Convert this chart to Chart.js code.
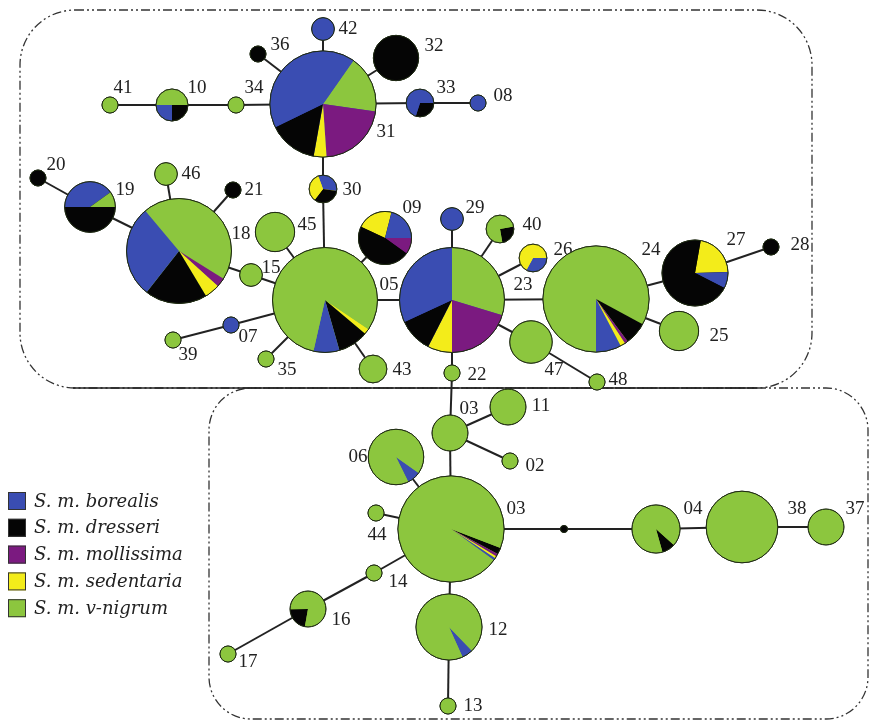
<!DOCTYPE html>
<html>
<head>
<meta charset="utf-8">
<script src="https://cdn.jsdelivr.net/npm/chart.js@4.4.0/dist/chart.umd.min.js"></script>
<style>
  html, body { margin: 0; padding: 0; background: #fff; }
  #wrap { width: 871px; height: 721px; }
</style>
</head>
<body>
<div id="wrap"><canvas id="net" width="871" height="721"></canvas></div>
<script>
// subspecies (legend order) and their colours
const subspecies = ['S. m. borealis', 'S. m. dresseri', 'S. m. mollissima', 'S. m. sedentaria', 'S. m. v-nigrum'];
const subColors = ['#3a4db2', '#050505', '#7b1a80', '#f3ec1a', '#8cc63e'];
const B = 0, D = 1, M = 2, S = 3, V = 4;

// haplotypes: key, layout position, number of individuals
const hapKeys = ['42','36','32','41','10','34','31','33','08','30','20','19','46','21','18','15','45','07','39','35',
                 '09','29','40','26','05','23','43','22','47','24','27','28','25','48','03a','11','02','06','03b','44',
                 '14','16','17','12','13','mv','04','38','37'];
const hapX = [323,258,396,110,172,236,323,420,478,323, 38, 90,166,233,179,251,275,231,173,266,
              385,452,500,533,325,452,373,452,531,596,695,771,679,597,450,508,510,396,451,376,
              374,308,228,449,448,564,656,742,826];
const hapY = [ 29, 54, 58,105,105,105,104,103,103,189,178,207,174,190,251,275,232,325,340,359,
              238,219,229,258,300,300,369,373,342,299,273,247,331,382,433,407,461,457,529,513,
              573,609,654,627,706,529,529,527,527];
const hapN = [ 2, 1, 8, 1, 4, 1,44, 3, 1, 3, 1,10, 2, 1,43, 2, 6, 1, 1, 1,
              11, 2, 3, 3,43,43, 3, 1, 7,44,17, 1, 6, 1, 5, 5, 1,12,44, 1,
               1, 5, 1,17, 1, 0, 9,20, 5];

// pie composition: start angle (deg, clockwise from 12 o'clock) and slices [subspecies, %] clockwise
const hapStart = [0,0,0,0,270,0,35,90,0,340,0,270,0,0,320,0,0,0,0,0,
                  295,0,80,90,124,0,0,0,0,180,10,0,0,0,0,0,0,125,111,0,
                  0,190,0,136,0,0,132,0,0];
const hapSlices = [
  [[B,100]], [[D,100]], [[D,100]], [[V,100]],
  [[V,50],[D,25],[B,25]],
  [[V,100]],
  [[V,17.5],[M,21.7],[S,3.9],[D,15],[B,41.9]],
  [[D,30],[B,70]],
  [[B,100]],
  [[B,33],[D,33],[S,34]],
  [[D,100]],
  [[B,40],[V,10],[D,50]],
  [[V,100]], [[D,100]],
  [[V,45],[M,2.8],[S,4.7],[D,19.2],[B,28.3]],
  [[V,100]], [[V,100]], [[B,100]], [[V,100]], [[V,100]],
  [[S,22],[B,21],[M,10],[D,47]],
  [[B,100]],
  [[D,25],[V,75]],
  [[B,33],[S,67]],
  [[S,1.7],[D,9.4],[B,8],[V,80.9]],
  [[V,29.7],[M,20.3],[S,7.5],[D,10.6],[B,31.9]],
  [[V,100]], [[V,100]], [[V,100]],
  [[V,82.9],[D,6.9],[M,1],[S,1.5],[B,7.7]],
  [[S,21.7],[B,8],[D,70.3]],
  [[D,100]], [[V,100]], [[V,100]], [[V,100]], [[V,100]], [[V,100]],
  [[B,8],[V,92]],
  [[D,2],[M,0.8],[S,0.7],[B,0.7],[V,95.8]],
  [[V,100]], [[V,100]],
  [[D,22],[V,78]],
  [[V,100]],
  [[B,5.5],[V,94.5]],
  [[V,100]],
  [[D,100]],
  [[D,9],[V,91]],
  [[V,100]], [[V,100]]
];

// mutational links between haplotypes
const links = [
  ['31','42'],['31','36'],['31','32'],['31','34'],['34','10'],['10','41'],['31','33'],['33','08'],
  ['31','30'],['30','05'],['20','19'],['19','18'],['46','18'],['21','18'],['18','15'],['15','05'],
  ['45','05'],['09','05'],['05','23'],['05','07'],['07','39'],['05','35'],['05','43'],['29','23'],
  ['40','23'],['26','23'],['23','24'],['23','47'],['47','48'],['23','22'],['24','27'],['27','28'],
  ['24','25'],['22','03a'],['03a','11'],['03a','02'],['03a','03b'],['06','03b'],['44','03b'],
  ['03b','14'],['14','16'],['16','17'],['03b','12'],['12','13'],['03b','mv'],['mv','04'],
  ['04','38'],['38','37']
];

// label placement (offset from node centre, px)
const labelDX = [25,22,38,13,25,18,63,26,25,29,18,35,25,21,62,20,32,17,15,21,
                 27,23,32,30,64,71,29,25,23,55,41,29,40,21,19,33,25,-38,65,1,
                 24,33,20,49,25,0,37,55,29];
const labelDY = [0,-9,-12,-17,-17,-17,28,-15,-7,1,-13,-17,0,0,-17,-7,-7,12,15,11,
                 -30,-11,-4,-8,-15,-15,1,2,28,-49,-33,-2,5,-2,-24,-1,5,0,-20,22,
                 9,11,8,3,0,0,-20,-18,-18];

function nodeRadius(n) {
  return n > 0 ? 8 * Math.sqrt(n) : 3.5;
}
function keyIndex(k) { return hapKeys.indexOf(k); }

const nodeData = hapKeys.map((k, i) => ({ x: hapX[i], y: hapY[i], r: nodeRadius(hapN[i]) }));

const edgeSets = links.map(([a, b]) => ({
  type: 'line',
  data: [{ x: hapX[keyIndex(a)], y: hapY[keyIndex(a)] }, { x: hapX[keyIndex(b)], y: hapY[keyIndex(b)] }],
  borderColor: '#222',
  borderWidth: 2,
  pointRadius: 0,
  fill: false,
  order: 1
}));

function toRad(deg) { return (deg - 90) * Math.PI / 180; }

const networkPlugin = {
  id: 'network',
  beforeDatasetsDraw(chart) {
    const ctx = chart.ctx;
    const sx = chart.scales.x, sy = chart.scales.y;
    ctx.save();
    ctx.strokeStyle = '#333';
    ctx.lineWidth = 1.3;
    ctx.setLineDash([9, 3, 2, 3, 2, 3]);
    // upper group
    let x0 = sx.getPixelForValue(20), x1 = sx.getPixelForValue(812);
    let y0 = sy.getPixelForValue(10), y1 = sy.getPixelForValue(388);
    ctx.beginPath(); ctx.roundRect(x0, y0, x1 - x0, y1 - y0, 55); ctx.stroke();
    // lower group
    x0 = sx.getPixelForValue(209); x1 = sx.getPixelForValue(868);
    y0 = sy.getPixelForValue(388); y1 = sy.getPixelForValue(719);
    ctx.beginPath(); ctx.roundRect(x0, y0, x1 - x0, y1 - y0, 42); ctx.stroke();
    // shared border
    ctx.setLineDash([]);
    ctx.strokeStyle = '#222';
    ctx.lineWidth = 1.5;
    ctx.beginPath();
    ctx.moveTo(sx.getPixelForValue(73), sy.getPixelForValue(388));
    ctx.lineTo(sx.getPixelForValue(757), sy.getPixelForValue(388));
    ctx.stroke();
    ctx.restore();
  },
  afterDatasetsDraw(chart) {
    const ctx = chart.ctx;
    const meta = chart.getDatasetMeta(0);
    ctx.save();
    meta.data.forEach((el, i) => {
      const r = el.options.radius;
      const tot = hapSlices[i].reduce((s, d) => s + d[1], 0);
      let a = toRad(hapStart[i]);
      hapSlices[i].forEach(([c, v]) => {
        const b = a + v / tot * 2 * Math.PI;
        ctx.beginPath();
        ctx.moveTo(el.x, el.y);
        ctx.arc(el.x, el.y, r, a, b);
        ctx.closePath();
        ctx.fillStyle = subColors[c];
        ctx.fill();
        a = b;
      });
      ctx.beginPath();
      ctx.arc(el.x, el.y, r, 0, 2 * Math.PI);
      ctx.strokeStyle = '#1f2a14';
      ctx.lineWidth = 1;
      ctx.stroke();
      // haplotype label
      if (hapKeys[i] !== 'mv') {
        ctx.font = '19px "Liberation Serif", "Times New Roman", serif';
        ctx.fillStyle = '#222';
        ctx.textAlign = 'center';
        ctx.textBaseline = 'middle';
        ctx.fillText(hapKeys[i].slice(0, 2), el.x + labelDX[i], el.y + labelDY[i]);
      }
    });
    // legend
    ctx.font = 'italic 18px "DejaVu Serif", serif';
    ctx.textAlign = 'left';
    ctx.textBaseline = 'middle';
    subspecies.forEach((name, i) => {
      const cy = 501 + i * 26.8;
      ctx.fillStyle = subColors[i];
      ctx.fillRect(8, cy - 9, 18, 18);
      ctx.strokeStyle = '#333';
      ctx.lineWidth = 1;
      ctx.strokeRect(8.5, cy - 8.5, 17, 17);
      ctx.fillStyle = '#222';
      ctx.fillText(name, 34, cy + 1);
    });
    ctx.restore();
  }
};

new Chart(document.getElementById('net'), {
  type: 'bubble',
  data: {
    datasets: [{
      data: nodeData,
      backgroundColor: hapSlices.map(s => subColors[s.reduce((m, d) => d[1] > m[1] ? d : m)[0]]),
      borderColor: '#1f2a14',
      borderWidth: 1,
      clip: false,
      order: 0
    }].concat(edgeSets)
  },
  options: {
    responsive: false,
    animation: false,
    events: [],
    layout: { padding: 0, autoPadding: false },
    scales: {
      x: { type: 'linear', min: 0, max: 871, display: false },
      y: { type: 'linear', min: 0, max: 721, reverse: true, display: false }
    },
    plugins: {
      legend: { display: false },
      tooltip: { enabled: false }
    }
  },
  plugins: [networkPlugin]
});
</script>
</body>
</html>
